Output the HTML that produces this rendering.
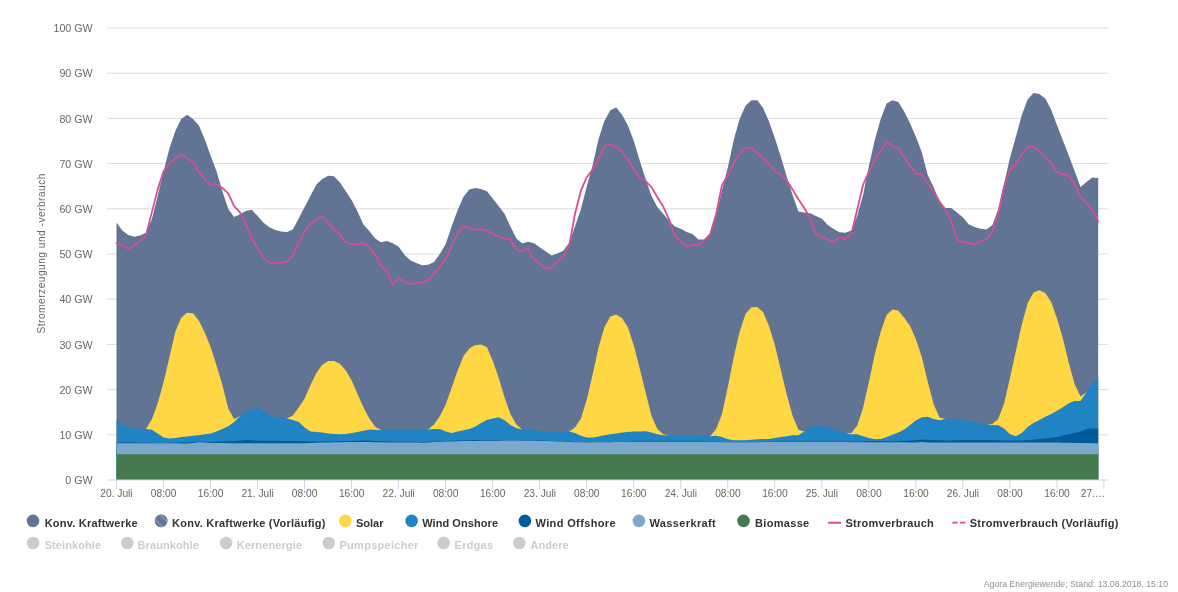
<!DOCTYPE html>
<html lang="de"><head><meta charset="utf-8"><title>Agorameter</title>
<style>
html,body{margin:0;padding:0;background:#fff;}
body{width:1178px;height:592px;overflow:hidden;font-family:"Liberation Sans",Arial,Helvetica,sans-serif;}
svg{display:block}
.ax{font-size:10.2px;fill:#666}
.lg{font-size:11px;font-weight:bold;fill:#333}
.lgo{font-size:11px;font-weight:bold;fill:#ccc}
</style></head><body>
<svg width="1178" height="592" viewBox="0 0 1178 592" font-family="Liberation Sans, Arial, Helvetica, sans-serif">
<rect width="1178" height="592" fill="#fff"/>

<path d="M107 434.8 H1108" stroke="#dcdcdc" stroke-width="1" fill="none"/>
<path d="M107 389.6 H1108" stroke="#dcdcdc" stroke-width="1" fill="none"/>
<path d="M107 344.4 H1108" stroke="#dcdcdc" stroke-width="1" fill="none"/>
<path d="M107 299.2 H1108" stroke="#dcdcdc" stroke-width="1" fill="none"/>
<path d="M107 254.0 H1108" stroke="#dcdcdc" stroke-width="1" fill="none"/>
<path d="M107 208.8 H1108" stroke="#dcdcdc" stroke-width="1" fill="none"/>
<path d="M107 163.6 H1108" stroke="#dcdcdc" stroke-width="1" fill="none"/>
<path d="M107 118.4 H1108" stroke="#dcdcdc" stroke-width="1" fill="none"/>
<path d="M107 73.2 H1108" stroke="#dcdcdc" stroke-width="1" fill="none"/>
<path d="M107 28.0 H1108" stroke="#dcdcdc" stroke-width="1" fill="none"/>
<path d="M116.5,222.8 L122.4,230.5 L128.3,235.0 L134.2,236.8 L140.1,235.5 L145.9,232.8 L151.8,219.6 L157.7,195.7 L163.6,171.3 L169.5,148.2 L175.3,131.1 L181.2,118.9 L187.1,114.8 L193.0,118.9 L198.8,125.2 L204.7,139.2 L210.6,155.5 L216.5,171.3 L222.4,191.2 L228.2,208.8 L234.1,216.9 L240.0,214.2 L245.9,211.1 L251.7,209.7 L257.6,216.0 L263.5,222.8 L269.4,227.3 L275.3,230.0 L281.1,231.4 L287.0,231.9 L292.9,229.6 L298.8,218.3 L304.6,207.0 L310.5,195.7 L316.4,184.4 L322.3,179.0 L328.2,175.8 L334.0,176.3 L339.9,182.6 L345.8,191.2 L351.7,200.2 L357.5,211.5 L363.4,224.6 L369.3,230.9 L375.2,238.6 L381.1,242.2 L386.9,240.9 L392.8,243.2 L398.7,246.8 L404.6,254.9 L410.4,260.3 L416.3,263.0 L422.2,265.3 L428.1,264.8 L434.0,262.1 L439.8,254.0 L445.7,244.1 L451.6,226.4 L457.5,210.6 L463.4,197.0 L469.2,189.4 L475.1,188.0 L481.0,188.9 L486.9,191.2 L492.7,198.4 L498.6,206.1 L504.5,213.8 L510.4,226.4 L516.3,238.2 L522.1,243.6 L528.0,241.8 L533.9,243.2 L539.8,247.2 L545.6,251.3 L551.5,255.4 L557.4,253.5 L563.3,250.8 L569.2,242.7 L575.0,226.4 L580.9,209.3 L586.8,186.2 L592.7,165.0 L598.5,139.2 L604.4,121.1 L610.3,110.3 L616.2,107.6 L622.1,114.8 L627.9,125.6 L633.8,141.0 L639.7,160.4 L645.6,179.0 L651.4,195.7 L657.3,207.0 L663.2,213.8 L669.1,221.0 L675.0,226.4 L680.8,228.7 L686.7,231.9 L692.6,234.1 L698.5,239.5 L704.3,239.5 L710.2,234.1 L716.1,216.0 L722.0,190.3 L727.9,167.2 L733.7,140.1 L739.6,118.9 L745.5,105.7 L751.4,100.3 L757.3,100.3 L763.1,108.0 L769.0,121.6 L774.9,138.3 L780.8,156.8 L786.6,176.3 L792.5,194.8 L798.4,211.5 L804.3,212.4 L810.2,213.3 L816.0,216.0 L821.9,218.7 L827.8,225.1 L833.7,229.1 L839.5,232.3 L845.4,232.8 L851.3,230.5 L857.2,216.0 L863.1,194.8 L868.9,165.9 L874.8,140.1 L880.7,118.9 L886.6,103.5 L892.4,100.3 L898.3,102.1 L904.2,111.6 L910.1,123.4 L916.0,136.9 L921.8,152.3 L927.7,174.9 L933.6,187.1 L939.5,202.0 L945.3,207.9 L951.2,207.9 L957.1,212.4 L963.0,217.4 L968.9,224.6 L974.7,226.9 L980.6,228.7 L986.5,229.6 L992.4,225.1 L998.2,209.3 L1004.1,183.5 L1010.0,157.7 L1015.9,136.5 L1021.8,115.2 L1027.6,99.4 L1033.5,93.1 L1039.4,94.0 L1045.3,98.5 L1051.2,109.8 L1057.0,125.2 L1062.9,140.5 L1068.8,155.5 L1074.7,171.3 L1080.5,187.1 L1086.4,182.1 L1092.3,177.6 L1098.2,178.1 L1098.2,480.0 L116.5,480.0Z" fill="#627494"/>
<path d="M116.5,423.5 L122.4,428.0 L128.3,430.7 L134.2,432.1 L140.1,432.1 L145.9,428.9 L151.8,419.4 L157.7,403.2 L163.6,381.9 L169.5,357.1 L175.3,331.7 L181.2,317.7 L187.1,312.8 L193.0,313.2 L198.8,320.4 L204.7,332.6 L210.6,347.1 L216.5,365.2 L222.4,385.1 L228.2,408.6 L234.1,419.0 L240.0,416.3 L245.9,415.4 L251.7,412.7 L257.6,411.7 L263.5,414.9 L269.4,418.5 L275.3,421.2 L281.1,421.2 L287.0,418.5 L292.9,415.4 L298.8,407.2 L304.6,398.6 L310.5,385.1 L316.4,372.9 L322.3,364.7 L328.2,361.1 L334.0,361.1 L339.9,363.8 L345.8,370.6 L351.7,380.6 L357.5,394.1 L363.4,407.2 L369.3,418.5 L375.2,426.7 L381.1,430.3 L386.9,433.4 L392.8,433.4 L398.7,433.4 L404.6,433.4 L410.4,433.7 L416.3,433.7 L422.2,433.4 L428.1,429.4 L434.0,424.4 L439.8,416.3 L445.7,404.5 L451.6,387.8 L457.5,371.1 L463.4,356.2 L469.2,348.5 L475.1,345.3 L481.0,344.4 L486.9,347.1 L492.7,360.7 L498.6,377.4 L504.5,397.3 L510.4,414.0 L516.3,424.4 L522.1,429.4 L528.0,433.0 L533.9,433.9 L539.8,434.3 L545.6,435.3 L551.5,435.3 L557.4,435.7 L563.3,435.7 L569.2,431.6 L575.0,427.6 L580.9,418.5 L586.8,399.5 L592.7,374.2 L598.5,347.6 L604.4,327.2 L610.3,316.4 L616.2,314.6 L622.1,318.2 L627.9,327.2 L633.8,345.3 L639.7,368.4 L645.6,392.3 L651.4,415.4 L657.3,428.9 L663.2,434.3 L669.1,435.3 L675.0,439.1 L680.8,439.3 L686.7,439.3 L692.6,439.3 L698.5,439.5 L704.3,439.8 L710.2,436.2 L716.1,428.9 L722.0,414.0 L727.9,386.4 L733.7,357.5 L739.6,331.7 L745.5,314.1 L751.4,307.3 L757.3,306.9 L763.1,311.9 L769.0,325.9 L774.9,345.3 L780.8,369.7 L786.6,394.1 L792.5,415.4 L798.4,429.8 L804.3,431.6 L810.2,431.2 L816.0,429.4 L821.9,429.4 L827.8,430.7 L833.7,432.5 L839.5,434.8 L845.4,433.0 L851.3,433.0 L857.2,425.8 L863.1,407.7 L868.9,381.9 L874.8,354.3 L880.7,331.7 L886.6,315.0 L892.4,309.6 L898.3,310.5 L904.2,317.7 L910.1,325.9 L916.0,339.4 L921.8,357.1 L927.7,381.5 L933.6,404.1 L939.5,417.6 L945.3,419.0 L951.2,422.1 L957.1,423.0 L963.0,424.0 L968.9,424.9 L974.7,425.8 L980.6,426.7 L986.5,424.0 L992.4,424.0 L998.2,419.0 L1004.1,403.6 L1010.0,377.8 L1015.9,350.7 L1021.8,324.5 L1027.6,303.3 L1033.5,292.4 L1039.4,290.2 L1045.3,292.9 L1051.2,301.9 L1057.0,318.6 L1062.9,338.5 L1068.8,362.9 L1074.7,384.2 L1080.5,396.4 L1086.4,392.3 L1092.3,386.9 L1098.2,380.6 L1098.2,480.0 L116.5,480.0Z" fill="#FFD744"/>
<path d="M116.5,419.9 L122.4,424.4 L128.3,427.1 L134.2,428.5 L140.1,428.5 L145.9,428.9 L151.8,429.8 L157.7,433.4 L163.6,437.5 L169.5,438.4 L175.3,438.0 L181.2,437.1 L187.1,436.6 L193.0,435.7 L198.8,435.3 L204.7,434.3 L210.6,433.4 L216.5,431.6 L222.4,428.9 L228.2,426.2 L234.1,422.1 L240.0,416.3 L245.9,411.7 L251.7,409.0 L257.6,408.1 L263.5,411.3 L269.4,414.9 L275.3,417.6 L281.1,417.6 L287.0,418.5 L292.9,419.9 L298.8,422.1 L304.6,427.6 L310.5,431.6 L316.4,432.1 L322.3,432.5 L328.2,433.4 L334.0,433.9 L339.9,434.3 L345.8,433.9 L351.7,433.0 L357.5,432.1 L363.4,430.7 L369.3,429.4 L375.2,429.8 L381.1,430.3 L386.9,429.8 L392.8,429.8 L398.7,429.8 L404.6,429.8 L410.4,430.1 L416.3,430.1 L422.2,429.8 L428.1,429.4 L434.0,428.9 L439.8,428.9 L445.7,431.6 L451.6,433.0 L457.5,431.6 L463.4,430.3 L469.2,428.9 L475.1,426.7 L481.0,423.0 L486.9,419.9 L492.7,418.5 L498.6,417.2 L504.5,420.3 L510.4,424.9 L516.3,428.0 L522.1,429.4 L528.0,429.4 L533.9,430.3 L539.8,430.7 L545.6,431.6 L551.5,431.6 L557.4,432.1 L563.3,432.1 L569.2,431.6 L575.0,433.0 L580.9,435.7 L586.8,437.5 L592.7,437.5 L598.5,436.6 L604.4,435.3 L610.3,434.3 L616.2,433.4 L622.1,432.5 L627.9,432.1 L633.8,431.6 L639.7,431.6 L645.6,431.2 L651.4,432.5 L657.3,434.3 L663.2,435.3 L669.1,435.3 L675.0,435.5 L680.8,435.7 L686.7,435.7 L692.6,435.7 L698.5,435.9 L704.3,436.2 L710.2,436.2 L716.1,435.7 L722.0,437.1 L727.9,439.3 L733.7,440.2 L739.6,440.2 L745.5,440.2 L751.4,439.8 L757.3,439.3 L763.1,438.9 L769.0,438.9 L774.9,438.0 L780.8,437.1 L786.6,436.2 L792.5,435.3 L798.4,435.3 L804.3,431.6 L810.2,427.6 L816.0,425.8 L821.9,425.8 L827.8,427.1 L833.7,428.9 L839.5,431.2 L845.4,433.0 L851.3,434.3 L857.2,434.3 L863.1,436.2 L868.9,438.0 L874.8,439.3 L880.7,438.9 L886.6,437.1 L892.4,434.8 L898.3,432.5 L904.2,429.4 L910.1,424.9 L916.0,420.3 L921.8,417.2 L927.7,416.7 L933.6,419.0 L939.5,420.3 L945.3,419.0 L951.2,418.5 L957.1,419.4 L963.0,420.3 L968.9,421.2 L974.7,422.1 L980.6,423.0 L986.5,424.0 L992.4,424.9 L998.2,425.3 L1004.1,428.5 L1010.0,434.3 L1015.9,436.2 L1021.8,433.0 L1027.6,427.1 L1033.5,423.0 L1039.4,419.9 L1045.3,416.7 L1051.2,414.0 L1057.0,410.8 L1062.9,407.2 L1068.8,403.2 L1074.7,400.9 L1080.5,400.9 L1086.4,392.3 L1092.3,383.3 L1098.2,376.9 L1098.2,480.0 L116.5,480.0Z" fill="#2083C3"/>
<path d="M116.5,442.4 L122.4,442.5 L128.3,442.6 L134.2,442.6 L140.1,442.7 L145.9,442.8 L151.8,442.8 L157.7,442.9 L163.6,442.9 L169.5,442.8 L175.3,442.7 L181.2,442.6 L187.1,442.5 L193.0,442.1 L198.8,441.7 L204.7,441.8 L210.6,441.9 L216.5,441.7 L222.4,441.5 L228.2,441.3 L234.1,441.0 L240.0,440.5 L245.9,440.0 L251.7,440.3 L257.6,440.7 L263.5,440.7 L269.4,440.8 L275.3,440.8 L281.1,440.9 L287.0,440.9 L292.9,440.9 L298.8,441.0 L304.6,441.2 L310.5,441.4 L316.4,441.5 L322.3,441.5 L328.2,441.5 L334.0,441.4 L339.9,441.3 L345.8,441.2 L351.7,441.0 L357.5,440.8 L363.4,440.5 L369.3,440.8 L375.2,441.0 L381.1,441.3 L386.9,441.5 L392.8,441.7 L398.7,441.9 L404.6,441.9 L410.4,442.0 L416.3,442.0 L422.2,442.0 L428.1,441.7 L434.0,441.4 L439.8,441.1 L445.7,440.9 L451.6,440.7 L457.5,440.5 L463.4,440.4 L469.2,440.2 L475.1,440.1 L481.0,440.1 L486.9,440.0 L492.7,439.9 L498.6,440.0 L504.5,440.0 L510.4,440.2 L516.3,440.3 L522.1,440.4 L528.0,440.4 L533.9,440.5 L539.8,440.6 L545.6,440.8 L551.5,440.9 L557.4,441.1 L563.3,441.3 L569.2,441.6 L575.0,441.9 L580.9,442.0 L586.8,442.1 L592.7,442.1 L598.5,442.0 L604.4,442.0 L610.3,441.9 L616.2,441.9 L622.1,441.8 L627.9,441.7 L633.8,441.6 L639.7,441.6 L645.6,441.6 L651.4,441.6 L657.3,441.6 L663.2,441.6 L669.1,441.6 L675.0,441.6 L680.8,441.6 L686.7,441.6 L692.6,441.6 L698.5,441.6 L704.3,441.6 L710.2,441.7 L716.1,441.8 L722.0,441.9 L727.9,442.0 L733.7,442.0 L739.6,442.0 L745.5,442.0 L751.4,442.0 L757.3,441.9 L763.1,441.8 L769.0,441.7 L774.9,441.6 L780.8,441.6 L786.6,441.6 L792.5,441.6 L798.4,441.6 L804.3,441.6 L810.2,441.6 L816.0,441.6 L821.9,441.6 L827.8,441.6 L833.7,441.6 L839.5,441.6 L845.4,441.6 L851.3,441.5 L857.2,441.4 L863.1,441.4 L868.9,441.0 L874.8,441.0 L880.7,441.0 L886.6,441.2 L892.4,441.4 L898.3,441.0 L904.2,440.7 L910.1,440.4 L916.0,440.2 L921.8,439.4 L927.7,439.8 L933.6,440.0 L939.5,440.2 L945.3,440.4 L951.2,440.5 L957.1,440.3 L963.0,440.1 L968.9,440.0 L974.7,439.9 L980.6,439.9 L986.5,439.9 L992.4,440.1 L998.2,440.2 L1004.1,440.4 L1010.0,440.5 L1015.9,440.5 L1021.8,440.4 L1027.6,440.1 L1033.5,439.8 L1039.4,439.1 L1045.3,438.4 L1051.2,437.7 L1057.0,436.9 L1062.9,435.7 L1068.8,434.3 L1074.7,433.0 L1080.5,431.6 L1086.4,428.9 L1092.3,428.5 L1098.2,428.7 L1098.2,480.0 L116.5,480.0Z" fill="#005B9A"/>
<path d="M116.5,443.3 L122.4,443.3 L128.3,443.3 L134.2,443.3 L140.1,443.3 L145.9,443.3 L151.8,443.3 L157.7,443.3 L163.6,443.3 L169.5,443.3 L175.3,443.3 L181.2,443.4 L187.1,443.6 L193.0,442.9 L198.8,442.2 L204.7,442.6 L210.6,442.9 L216.5,443.0 L222.4,443.1 L228.2,443.2 L234.1,443.3 L240.0,443.3 L245.9,443.3 L251.7,443.3 L257.6,443.3 L263.5,443.3 L269.4,443.3 L275.3,443.3 L281.1,443.3 L287.0,443.3 L292.9,443.3 L298.8,443.3 L304.6,443.3 L310.5,443.0 L316.4,442.7 L322.3,442.6 L328.2,442.4 L334.0,442.3 L339.9,442.2 L345.8,442.1 L351.7,442.0 L357.5,442.0 L363.4,441.9 L369.3,442.1 L375.2,442.2 L381.1,442.3 L386.9,442.4 L392.8,442.4 L398.7,442.4 L404.6,442.5 L410.4,442.6 L416.3,442.6 L422.2,442.7 L428.1,442.4 L434.0,442.0 L439.8,441.8 L445.7,441.6 L451.6,441.4 L457.5,441.3 L463.4,441.1 L469.2,440.9 L475.1,440.9 L481.0,440.8 L486.9,440.7 L492.7,440.7 L498.6,440.7 L504.5,440.6 L510.4,440.6 L516.3,440.6 L522.1,440.7 L528.0,440.7 L533.9,440.8 L539.8,440.9 L545.6,441.0 L551.5,441.2 L557.4,441.4 L563.3,441.6 L569.2,441.9 L575.0,442.2 L580.9,442.3 L586.8,442.4 L592.7,442.3 L598.5,442.3 L604.4,442.3 L610.3,442.2 L616.2,442.1 L622.1,442.1 L627.9,442.0 L633.8,441.9 L639.7,441.9 L645.6,441.9 L651.4,441.9 L657.3,441.9 L663.2,441.9 L669.1,441.9 L675.0,441.9 L680.8,441.9 L686.7,441.9 L692.6,441.9 L698.5,441.9 L704.3,441.9 L710.2,442.0 L716.1,442.1 L722.0,442.2 L727.9,442.3 L733.7,442.3 L739.6,442.3 L745.5,442.3 L751.4,442.3 L757.3,442.2 L763.1,442.1 L769.0,442.0 L774.9,441.9 L780.8,441.9 L786.6,441.9 L792.5,442.0 L798.4,442.0 L804.3,442.0 L810.2,442.0 L816.0,442.0 L821.9,442.1 L827.8,442.1 L833.7,442.1 L839.5,442.1 L845.4,442.1 L851.3,442.2 L857.2,442.2 L863.1,442.2 L868.9,442.2 L874.8,442.2 L880.7,442.3 L886.6,442.3 L892.4,442.3 L898.3,442.3 L904.2,442.3 L910.1,442.4 L916.0,442.4 L921.8,441.9 L927.7,442.4 L933.6,442.4 L939.5,442.4 L945.3,442.4 L951.2,442.4 L957.1,442.4 L963.0,442.4 L968.9,442.5 L974.7,442.5 L980.6,442.5 L986.5,442.5 L992.4,442.5 L998.2,442.5 L1004.1,442.5 L1010.0,442.5 L1015.9,442.5 L1021.8,442.5 L1027.6,442.5 L1033.5,442.5 L1039.4,442.5 L1045.3,442.6 L1051.2,442.6 L1057.0,442.6 L1062.9,442.7 L1068.8,442.8 L1074.7,442.9 L1080.5,443.0 L1086.4,443.1 L1092.3,443.2 L1098.2,443.3 L1098.2,480.0 L116.5,480.0Z" fill="#7BA8CD"/>
<path d="M116.5,454.2 L122.4,454.2 L128.3,454.2 L134.2,454.2 L140.1,454.2 L145.9,454.2 L151.8,454.2 L157.7,454.2 L163.6,454.2 L169.5,454.2 L175.3,454.2 L181.2,454.2 L187.1,454.2 L193.0,454.2 L198.8,454.2 L204.7,454.2 L210.6,454.2 L216.5,454.2 L222.4,454.2 L228.2,454.2 L234.1,454.2 L240.0,454.2 L245.9,454.2 L251.7,454.2 L257.6,454.2 L263.5,454.2 L269.4,454.2 L275.3,454.2 L281.1,454.2 L287.0,454.2 L292.9,454.2 L298.8,454.2 L304.6,454.2 L310.5,454.2 L316.4,454.2 L322.3,454.2 L328.2,454.2 L334.0,454.2 L339.9,454.2 L345.8,454.2 L351.7,454.2 L357.5,454.2 L363.4,454.2 L369.3,454.2 L375.2,454.2 L381.1,454.2 L386.9,454.2 L392.8,454.2 L398.7,454.2 L404.6,454.2 L410.4,454.2 L416.3,454.2 L422.2,454.2 L428.1,454.2 L434.0,454.2 L439.8,454.2 L445.7,454.2 L451.6,454.2 L457.5,454.2 L463.4,454.2 L469.2,454.2 L475.1,454.2 L481.0,454.2 L486.9,454.2 L492.7,454.2 L498.6,454.2 L504.5,454.2 L510.4,454.2 L516.3,454.2 L522.1,454.2 L528.0,454.2 L533.9,454.2 L539.8,454.2 L545.6,454.2 L551.5,454.2 L557.4,454.2 L563.3,454.2 L569.2,454.2 L575.0,454.2 L580.9,454.2 L586.8,454.2 L592.7,454.2 L598.5,454.2 L604.4,454.2 L610.3,454.2 L616.2,454.2 L622.1,454.2 L627.9,454.2 L633.8,454.2 L639.7,454.2 L645.6,454.2 L651.4,454.2 L657.3,454.2 L663.2,454.2 L669.1,454.2 L675.0,454.2 L680.8,454.2 L686.7,454.2 L692.6,454.2 L698.5,454.2 L704.3,454.2 L710.2,454.2 L716.1,454.2 L722.0,454.2 L727.9,454.2 L733.7,454.2 L739.6,454.2 L745.5,454.2 L751.4,454.2 L757.3,454.2 L763.1,454.2 L769.0,454.2 L774.9,454.2 L780.8,454.2 L786.6,454.2 L792.5,454.2 L798.4,454.2 L804.3,454.2 L810.2,454.2 L816.0,454.2 L821.9,454.2 L827.8,454.2 L833.7,454.2 L839.5,454.2 L845.4,454.2 L851.3,454.2 L857.2,454.2 L863.1,454.2 L868.9,454.2 L874.8,454.2 L880.7,454.2 L886.6,454.2 L892.4,454.2 L898.3,454.2 L904.2,454.2 L910.1,454.2 L916.0,454.2 L921.8,454.2 L927.7,454.2 L933.6,454.2 L939.5,454.2 L945.3,454.2 L951.2,454.2 L957.1,454.2 L963.0,454.2 L968.9,454.2 L974.7,454.2 L980.6,454.2 L986.5,454.2 L992.4,454.2 L998.2,454.2 L1004.1,454.2 L1010.0,454.2 L1015.9,454.2 L1021.8,454.2 L1027.6,454.2 L1033.5,454.2 L1039.4,454.2 L1045.3,454.2 L1051.2,454.2 L1057.0,454.2 L1062.9,454.2 L1068.8,454.2 L1074.7,454.2 L1080.5,454.2 L1086.4,454.2 L1092.3,454.2 L1098.2,454.2 L1098.2,480.0 L116.5,480.0Z" fill="#45794E"/>
<path d="M116.5,243.2 L122.4,245.0 L128.3,249.0 L134.2,245.4 L140.1,240.9 L145.9,235.9 L151.8,212.4 L157.7,189.4 L163.6,171.3 L169.5,163.6 L175.3,158.6 L181.2,154.6 L187.1,157.7 L193.0,162.2 L198.8,171.7 L204.7,179.0 L210.6,184.8 L216.5,183.9 L222.4,188.0 L228.2,193.4 L234.1,206.1 L240.0,212.4 L245.9,224.6 L251.7,237.7 L257.6,248.6 L263.5,258.1 L269.4,262.6 L275.3,263.0 L281.1,262.6 L287.0,261.7 L292.9,254.9 L298.8,242.7 L304.6,231.4 L310.5,223.7 L316.4,219.6 L322.3,216.0 L328.2,222.8 L334.0,229.1 L339.9,234.6 L345.8,242.7 L351.7,244.5 L357.5,244.5 L363.4,243.2 L369.3,247.2 L375.2,254.9 L381.1,265.3 L386.9,271.6 L392.8,284.3 L398.7,278.0 L404.6,282.0 L410.4,283.8 L416.3,282.9 L422.2,282.5 L428.1,280.2 L434.0,273.9 L439.8,266.2 L445.7,259.0 L451.6,245.9 L457.5,233.7 L463.4,226.0 L469.2,227.8 L475.1,230.0 L481.0,229.1 L486.9,230.5 L492.7,233.7 L498.6,236.4 L504.5,238.6 L510.4,239.5 L516.3,249.5 L522.1,251.7 L528.0,248.1 L533.9,259.4 L539.8,263.9 L545.6,268.0 L551.5,268.0 L557.4,261.7 L563.3,256.3 L569.2,245.9 L575.0,213.8 L580.9,190.7 L586.8,177.2 L592.7,169.5 L598.5,159.1 L604.4,146.4 L610.3,144.6 L616.2,146.9 L622.1,151.8 L627.9,159.5 L633.8,169.5 L639.7,178.1 L645.6,181.2 L651.4,187.1 L657.3,197.0 L663.2,206.5 L669.1,219.6 L675.0,236.8 L680.8,241.3 L686.7,246.3 L692.6,245.0 L698.5,245.0 L704.3,240.4 L710.2,234.1 L716.1,214.2 L722.0,185.3 L727.9,174.9 L733.7,162.7 L739.6,153.7 L745.5,148.2 L751.4,148.2 L757.3,152.8 L763.1,158.2 L769.0,164.1 L774.9,171.3 L780.8,174.4 L786.6,180.3 L792.5,189.4 L798.4,199.3 L804.3,207.9 L810.2,218.7 L816.0,234.1 L821.9,236.4 L827.8,239.5 L833.7,242.2 L839.5,237.3 L845.4,239.1 L851.3,234.1 L857.2,209.7 L863.1,184.8 L868.9,171.7 L874.8,159.5 L880.7,150.5 L886.6,141.5 L892.4,146.0 L898.3,148.2 L904.2,157.3 L910.1,165.9 L916.0,174.0 L921.8,174.4 L927.7,183.9 L933.6,190.7 L939.5,201.6 L945.3,209.3 L951.2,220.6 L957.1,239.5 L963.0,242.2 L968.9,242.7 L974.7,244.5 L980.6,240.9 L986.5,239.1 L992.4,231.4 L998.2,213.8 L1004.1,186.7 L1010.0,169.5 L1015.9,164.5 L1021.8,154.1 L1027.6,146.9 L1033.5,146.9 L1039.4,150.9 L1045.3,157.3 L1051.2,163.1 L1057.0,172.6 L1062.9,174.0 L1068.8,175.4 L1074.7,184.4 L1080.5,197.0 L1086.4,202.5 L1092.3,210.2 L1098.2,221.5" fill="none" stroke="#D44E96" stroke-width="1.8" stroke-linejoin="round" stroke-linecap="round"/>
<path d="M107 480 H1108" stroke="#ccd6eb" stroke-width="1" fill="none"/>
<path d="M116.4 480 V489" stroke="#ccd6eb" stroke-width="1" fill="none"/>
<text class="ax" x="116.5" y="497" text-anchor="middle">20. Juli</text>
<path d="M163.4 480 V489" stroke="#ccd6eb" stroke-width="1" fill="none"/>
<text class="ax" x="163.6" y="497" text-anchor="middle">08:00</text>
<path d="M210.4 480 V489" stroke="#ccd6eb" stroke-width="1" fill="none"/>
<text class="ax" x="210.6" y="497" text-anchor="middle">16:00</text>
<path d="M257.5 480 V489" stroke="#ccd6eb" stroke-width="1" fill="none"/>
<text class="ax" x="257.6" y="497" text-anchor="middle">21. Juli</text>
<path d="M304.5 480 V489" stroke="#ccd6eb" stroke-width="1" fill="none"/>
<text class="ax" x="304.6" y="497" text-anchor="middle">08:00</text>
<path d="M351.5 480 V489" stroke="#ccd6eb" stroke-width="1" fill="none"/>
<text class="ax" x="351.7" y="497" text-anchor="middle">16:00</text>
<path d="M398.5 480 V489" stroke="#ccd6eb" stroke-width="1" fill="none"/>
<text class="ax" x="398.7" y="497" text-anchor="middle">22. Juli</text>
<path d="M445.6 480 V489" stroke="#ccd6eb" stroke-width="1" fill="none"/>
<text class="ax" x="445.7" y="497" text-anchor="middle">08:00</text>
<path d="M492.6 480 V489" stroke="#ccd6eb" stroke-width="1" fill="none"/>
<text class="ax" x="492.7" y="497" text-anchor="middle">16:00</text>
<path d="M539.6 480 V489" stroke="#ccd6eb" stroke-width="1" fill="none"/>
<text class="ax" x="539.8" y="497" text-anchor="middle">23. Juli</text>
<path d="M586.6 480 V489" stroke="#ccd6eb" stroke-width="1" fill="none"/>
<text class="ax" x="586.8" y="497" text-anchor="middle">08:00</text>
<path d="M633.7 480 V489" stroke="#ccd6eb" stroke-width="1" fill="none"/>
<text class="ax" x="633.8" y="497" text-anchor="middle">16:00</text>
<path d="M680.7 480 V489" stroke="#ccd6eb" stroke-width="1" fill="none"/>
<text class="ax" x="680.8" y="497" text-anchor="middle">24. Juli</text>
<path d="M727.7 480 V489" stroke="#ccd6eb" stroke-width="1" fill="none"/>
<text class="ax" x="727.9" y="497" text-anchor="middle">08:00</text>
<path d="M774.7 480 V489" stroke="#ccd6eb" stroke-width="1" fill="none"/>
<text class="ax" x="774.9" y="497" text-anchor="middle">16:00</text>
<path d="M821.8 480 V489" stroke="#ccd6eb" stroke-width="1" fill="none"/>
<text class="ax" x="821.9" y="497" text-anchor="middle">25. Juli</text>
<path d="M868.8 480 V489" stroke="#ccd6eb" stroke-width="1" fill="none"/>
<text class="ax" x="868.9" y="497" text-anchor="middle">08:00</text>
<path d="M915.8 480 V489" stroke="#ccd6eb" stroke-width="1" fill="none"/>
<text class="ax" x="916.0" y="497" text-anchor="middle">16:00</text>
<path d="M962.8 480 V489" stroke="#ccd6eb" stroke-width="1" fill="none"/>
<text class="ax" x="963.0" y="497" text-anchor="middle">26. Juli</text>
<path d="M1009.9 480 V489" stroke="#ccd6eb" stroke-width="1" fill="none"/>
<text class="ax" x="1010.0" y="497" text-anchor="middle">08:00</text>
<path d="M1056.9 480 V489" stroke="#ccd6eb" stroke-width="1" fill="none"/>
<text class="ax" x="1057.0" y="497" text-anchor="middle">16:00</text>
<path d="M1103.9 480 V489" stroke="#ccd6eb" stroke-width="1" fill="none"/>
<text class="ax" x="1105.2" y="497" text-anchor="end">27.…</text>
<text class="ax" style="font-size:10.7px" x="92.7" y="484.1" text-anchor="end">0 GW</text>
<text class="ax" style="font-size:10.7px" x="92.7" y="438.9" text-anchor="end">10 GW</text>
<text class="ax" style="font-size:10.7px" x="92.7" y="393.7" text-anchor="end">20 GW</text>
<text class="ax" style="font-size:10.7px" x="92.7" y="348.5" text-anchor="end">30 GW</text>
<text class="ax" style="font-size:10.7px" x="92.7" y="303.3" text-anchor="end">40 GW</text>
<text class="ax" style="font-size:10.7px" x="92.7" y="258.1" text-anchor="end">50 GW</text>
<text class="ax" style="font-size:10.7px" x="92.7" y="212.9" text-anchor="end">60 GW</text>
<text class="ax" style="font-size:10.7px" x="92.7" y="167.7" text-anchor="end">70 GW</text>
<text class="ax" style="font-size:10.7px" x="92.7" y="122.5" text-anchor="end">80 GW</text>
<text class="ax" style="font-size:10.7px" x="92.7" y="77.3" text-anchor="end">90 GW</text>
<text class="ax" style="font-size:10.7px" x="92.7" y="32.1" text-anchor="end">100 GW</text>
<text class="ax" transform="translate(45.4,253.5) rotate(-90)" text-anchor="middle" textLength="160" lengthAdjust="spacing">Stromerzeugung und -verbrauch</text>
<circle cx="33.0" cy="520.9" r="6.3" fill="#627494"/>
<text class="lg" x="44.7" y="526.5" textLength="92.9" lengthAdjust="spacing">Konv. Kraftwerke</text>
<circle cx="161.10000000000002" cy="520.9" r="6.3" fill="#627494"/>
<text class="lg" x="172" y="526.5" textLength="153.5" lengthAdjust="spacing">Konv. Kraftwerke (Vorläufig)</text>
<circle cx="345.3" cy="520.9" r="6.3" fill="#FFD744"/>
<text class="lg" x="356" y="526.5" textLength="27.5" lengthAdjust="spacing">Solar</text>
<circle cx="411.6" cy="520.9" r="6.3" fill="#2083C3"/>
<text class="lg" x="422.2" y="526.5" textLength="75.8" lengthAdjust="spacing">Wind Onshore</text>
<circle cx="524.9" cy="520.9" r="6.3" fill="#005B9A"/>
<text class="lg" x="535.5" y="526.5" textLength="80.1" lengthAdjust="spacing">Wind Offshore</text>
<circle cx="638.9" cy="520.9" r="6.3" fill="#7BA8CD"/>
<text class="lg" x="649.5" y="526.5" textLength="66.2" lengthAdjust="spacing">Wasserkraft</text>
<circle cx="743.5" cy="520.9" r="6.3" fill="#45794E"/>
<text class="lg" x="755" y="526.5" textLength="54.2" lengthAdjust="spacing">Biomasse</text>
<defs><pattern id="hp" patternUnits="userSpaceOnUse" width="10" height="10" patternTransform="translate(0,4.5)"><rect width="10" height="10" fill="#627494"/><path d="M-1 -1 L11 11 M9 -1 L11 1 M-1 9 L1 11" stroke="#7e8eac" stroke-width="2.3" fill="none"/></pattern></defs><circle cx="161.1" cy="520.9" r="6.3" fill="url(#hp)"/>
<path d="M828.1 522.7 H841" stroke="#D44E96" stroke-width="2" fill="none"/>
<text class="lg" x="845.5" y="526.5" textLength="88.3" lengthAdjust="spacing">Stromverbrauch</text>
<path d="M952.4 522.7 H965.4" stroke="#D44E96" stroke-width="1.7" stroke-dasharray="5.3,2.4" fill="none"/>
<text class="lg" x="969.7" y="526.5" textLength="148.7" lengthAdjust="spacing">Stromverbrauch (Vorläufig)</text>
<circle cx="33.0" cy="543.0" r="6.3" fill="#cccccc"/>
<text class="lgo" x="44.7" y="548.5" textLength="56.3" lengthAdjust="spacing">Steinkohle</text>
<circle cx="127.3" cy="543.0" r="6.3" fill="#cccccc"/>
<text class="lgo" x="137.6" y="548.5" textLength="61.2" lengthAdjust="spacing">Braunkohle</text>
<circle cx="226.10000000000002" cy="543.0" r="6.3" fill="#cccccc"/>
<text class="lgo" x="236.7" y="548.5" textLength="65.3" lengthAdjust="spacing">Kernenergie</text>
<circle cx="328.8" cy="543.0" r="6.3" fill="#cccccc"/>
<text class="lgo" x="339.5" y="548.5" textLength="78.9" lengthAdjust="spacing">Pumpspeicher</text>
<circle cx="443.7" cy="543.0" r="6.3" fill="#cccccc"/>
<text class="lgo" x="454.6" y="548.5" textLength="38.4" lengthAdjust="spacing">Erdgas</text>
<circle cx="519.3" cy="543.0" r="6.3" fill="#cccccc"/>
<text class="lgo" x="530.5" y="548.5" textLength="38.2" lengthAdjust="spacing">Andere</text>
<text x="983.8" y="587.3" font-size="8.7" fill="#8e8e8e" textLength="184.2" lengthAdjust="spacing">Agora Energiewende; Stand: 13.08.2018, 15:10</text>
</svg></body></html>
